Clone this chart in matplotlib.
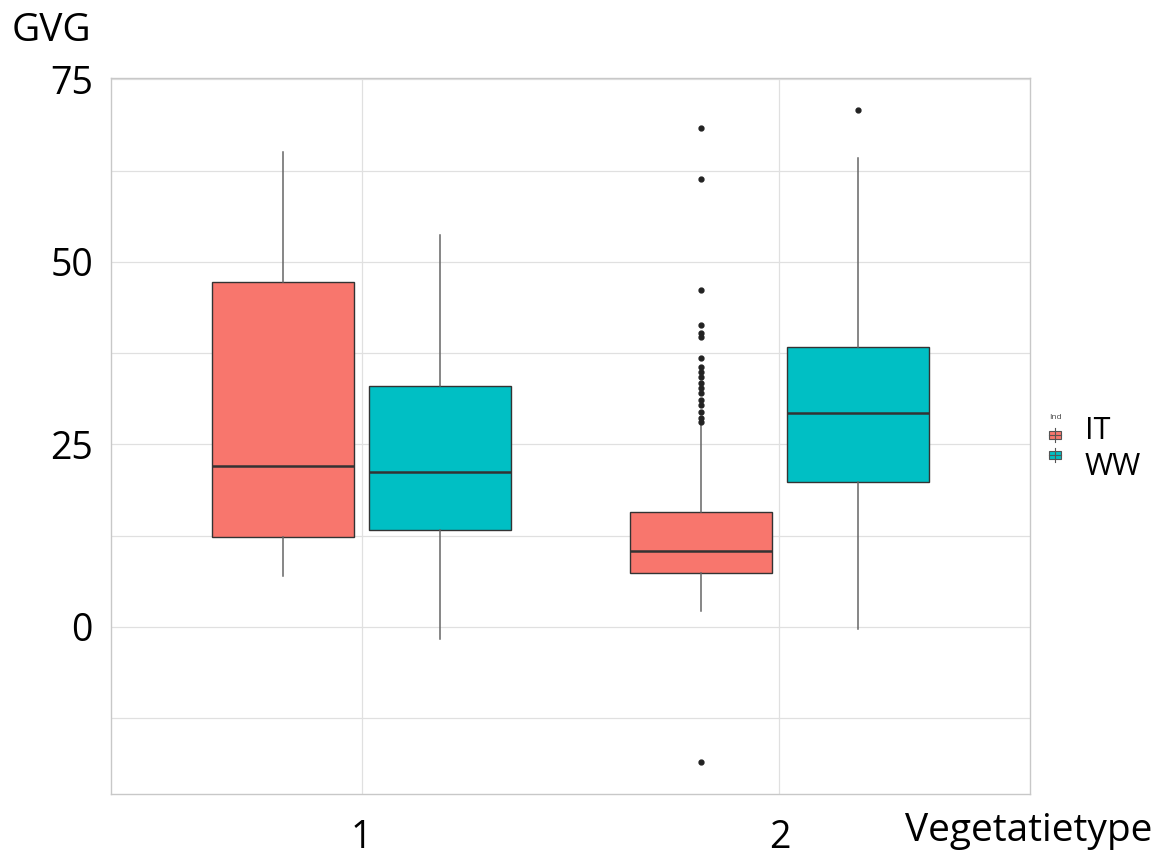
import matplotlib
matplotlib.use("Agg")
import matplotlib.pyplot as plt
from matplotlib.patches import Rectangle
from matplotlib.lines import Line2D

plt.rcParams['font.family'] = ['Open Sans', 'DejaVu Sans']

groups = ["1", "2"]
series = ["IT", "WW"]
colors = {"IT": "#F8766D", "WW": "#00BFC4"}

# five-number summaries per (group, series): low whisker, Q1, median, Q3, high whisker
it_whislo = [7.0, 2.2]
it_q1 = [12.3, 7.4]
it_med = [22.0, 10.4]
it_q3 = [47.3, 15.8]
it_whishi = [65.1, 28.0]
it_fliers = [[], [68.3, 61.3, 46.1, 41.4, 40.3, 39.7, 36.8, 35.6, 34.9, 34.2,
                  33.4, 32.7, 32.1, 31.1, 30.4, 29.5, 28.6, 28.1, -18.5]]

ww_whislo = [-1.6, -0.3]
ww_q1 = [13.3, 19.8]
ww_med = [21.2, 29.3]
ww_q3 = [33.0, 38.4]
ww_whishi = [53.7, 64.2]
ww_fliers = [[], [70.8]]

fig = plt.figure(figsize=(11.59, 8.59), dpi=100)
ax = fig.add_axes([111/1159, 1-794/859, (1030-111)/1159, (794-78)/859])

def stats(lo, q1, med, q3, hi, fl):
    return [dict(whislo=lo[i], q1=q1[i], med=med[i], q3=q3[i], whishi=hi[i],
                 fliers=fl[i]) for i in range(len(lo))]

off = 0.1875
for name, st, sign in [("IT", stats(it_whislo, it_q1, it_med, it_q3, it_whishi, it_fliers), -1),
                       ("WW", stats(ww_whislo, ww_q1, ww_med, ww_q3, ww_whishi, ww_fliers), 1)]:
    pos = [i + 1 + sign * off for i in range(len(groups))]
    ax.bxp(st, positions=pos, widths=0.34, patch_artist=True, showcaps=False,
           boxprops=dict(facecolor=colors[name], edgecolor="#333333", linewidth=1.0),
           medianprops=dict(color="#333333", linewidth=1.8),
           whiskerprops=dict(color="#666666", linewidth=1.1),
           flierprops=dict(marker="o", markersize=3.5, markerfacecolor="#222222",
                           markeredgecolor="#222222"),
           zorder=3)

ax.set_xlim(0.4, 2.6)
ax.set_ylim(-22.9, 75.2)
ax.set_xticks([1, 2])
ax.set_xticklabels(groups)
ax.set_yticks([0, 25, 50, 75])
ax.set_yticks([-12.5, 12.5, 37.5, 62.5], minor=True)
ax.grid(True, which="both", color="#E0E0E0", linewidth=0.9, zorder=0)
ax.set_axisbelow(True)
ax.tick_params(axis="both", which="both", length=0, labelsize=27)
ax.tick_params(axis="x", pad=18)
ax.tick_params(axis="y", pad=13)
for s in ax.spines.values():
    s.set_color("#C8C8C8")
    s.set_linewidth(1.0)

fig.text(12/1159, 1-31/859, "GVG", fontsize=28, ha="left", va="center")
fig.text(905/1159, 1-831/859, "Vegetatietype", fontsize=28, ha="left", va="center")

# legend
fig.text(1049/1159, 1-417/859, "Ind", fontsize=6, color="#444444", ha="left", va="center")
for i, name in enumerate(series):
    yc = 435 + i * 20
    fig.add_artist(Line2D([1055/1159, 1055/1159], [1-(yc-7)/859, 1-(yc+7)/859],
                          color="#555555", linewidth=0.8, transform=fig.transFigure))
    fig.add_artist(Rectangle((1049/1159, 1-(yc+4)/859), 12/1159, 8/859,
                             facecolor=colors[name], edgecolor="#555555", linewidth=0.8,
                             transform=fig.transFigure))
    fig.add_artist(Line2D([1049/1159, 1061/1159], [1-yc/859, 1-yc/859],
                          color="#555555", linewidth=0.8, transform=fig.transFigure))
fig.text(1085/1159, 1-431/859, "IT", fontsize=22, ha="left", va="center")
fig.text(1085/1159, 1-467/859, "WW", fontsize=22, ha="left", va="center")

fig.savefig("out.png", dpi=100)
